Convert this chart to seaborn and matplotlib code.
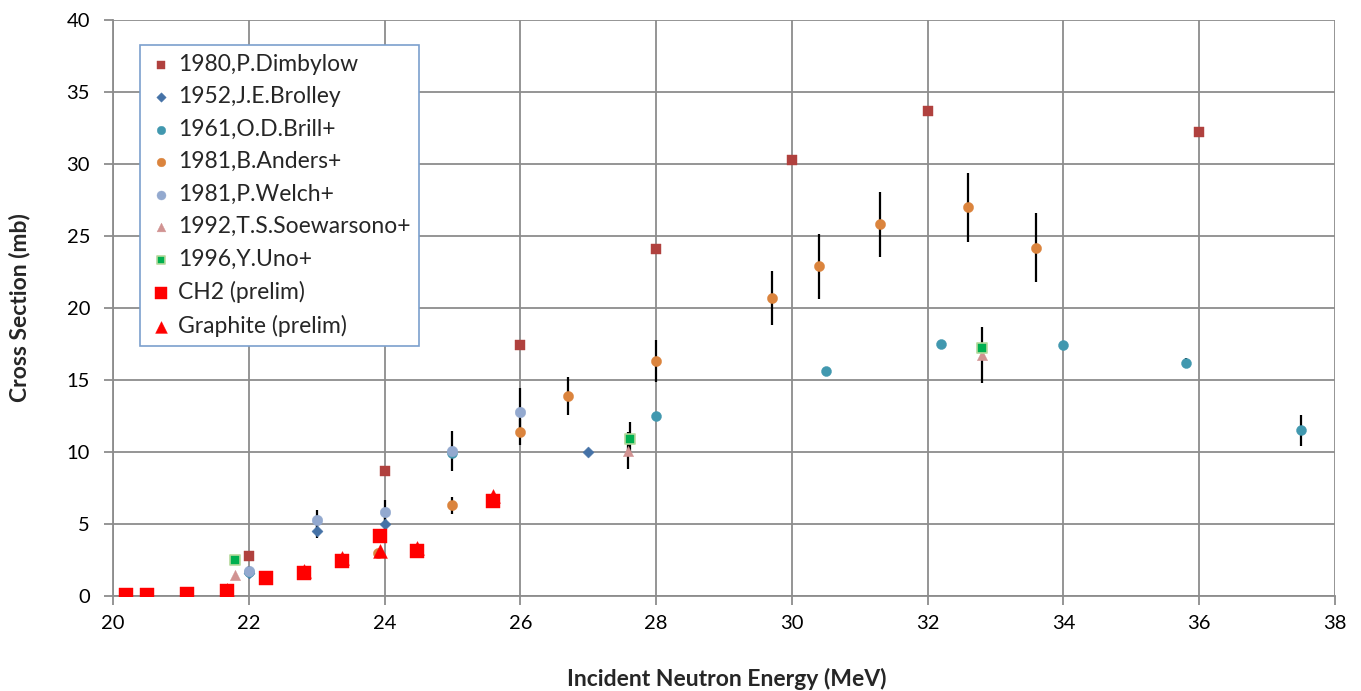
import matplotlib
matplotlib.use("Agg")
import matplotlib.pyplot as plt
import seaborn as sns
import numpy as np

# ---- data ----
dimbylow_x = [22.0, 24.0, 26.0, 28.0, 30.0, 32.0, 36.0]
dimbylow_y = [2.8, 8.7, 17.4, 24.1, 30.3, 33.7, 32.2]
dimbylow_e = [0, 0, 0, 0, 0, 0, 0]

brolley_x = [22.0, 23.0, 24.0, 27.0]
brolley_y = [1.6, 4.5, 5.0, 10.0]
brolley_e = [0.2, 0.5, 0.5, 0.0]

brill_x = [22.0, 25.0, 28.0, 30.5, 32.2, 34.0, 35.8, 37.5]
brill_y = [1.65, 9.95, 12.5, 15.6, 17.5, 17.4, 16.2, 11.5]
brill_e = [0.2, 0.3, 0.3, 0.2, 0.2, 0.2, 0.35, 1.1]

anders_x = [23.9, 25.0, 26.0, 26.7, 28.0, 29.7, 30.4, 31.3, 32.6, 33.6]
anders_y = [3.0, 6.3, 11.4, 13.9, 16.3, 20.7, 22.9, 25.8, 27.0, 24.2]
anders_e = [0.2, 0.6, 0.9, 1.3, 1.45, 1.85, 2.27, 2.29, 2.4, 2.4]

welch_x = [22.0, 23.0, 24.0, 25.0, 26.0]
welch_y = [1.75, 5.3, 5.85, 10.05, 12.8]
welch_e = [0.3, 0.65, 0.8, 1.4, 1.65]

soew_x = [21.8, 27.58, 32.8]
soew_y = [1.45, 10.1, 16.75]
soew_e = [0.0, 1.3, 1.95]

uno_x = [21.8, 27.62, 32.8]
uno_y = [2.5, 10.9, 17.2]
uno_e = [0.0, 1.2, 0.0]

ch2_x = [20.19, 20.5, 21.09, 21.68, 22.25, 22.82, 23.38, 23.94, 24.48, 25.6]
ch2_y = [0.05, 0.05, 0.14, 0.35, 1.23, 1.58, 2.42, 4.2, 3.1, 6.6]

graph_x = [21.68, 22.82, 23.38, 23.93, 24.48, 25.6]
graph_y = [0.45, 1.75, 2.65, 3.15, 3.35, 6.95]

x_ticks = [20, 22, 24, 26, 28, 30, 32, 34, 36, 38]
y_ticks = [0, 5, 10, 15, 20, 25, 30, 35, 40]

sns.set_theme(style="white")
plt.rcParams['font.family'] = ['Lato', 'DejaVu Sans']

fig = plt.figure(figsize=(13.61, 6.91), dpi=100)
ax = fig.add_axes([113/1361, 1 - 596/691, (1335-113)/1361, (596-20)/691])

series = [
    ("1980,P.Dimbylow", dimbylow_x, dimbylow_y, dimbylow_e, "s", "#B0413E", "#B0413E", 45, 3),
    ("1952,J.E.Brolley", brolley_x, brolley_y, brolley_e, "D", "#4572A7", "#4572A7", 32, 3.1),
    ("1961,O.D.Brill+", brill_x, brill_y, brill_e, "o", "#4198AF", "#4198AF", 52, 3.2),
    ("1981,B.Anders+", anders_x, anders_y, anders_e, "o", "#DB843D", "#DB843D", 54, 3.3),
    ("1981,P.Welch+", welch_x, welch_y, welch_e, "o", "#93A9CF", "#93A9CF", 58, 3.4),
    ("1992,T.S.Soewarsono+", soew_x, soew_y, soew_e, "^", "#D19392", "#D19392", 55, 3.5),
    ("1996,Y.Uno+", uno_x, uno_y, uno_e, "s", "#00B050", "#B5D99C", 42, 3.6),
]

for lab, xs, ys, es, mk, col, ec, s, z in series:
    es = np.array(es)
    m = es > 0
    if m.any():
        ax.errorbar(np.array(xs)[m], np.array(ys)[m], yerr=es[m], fmt='none',
                    ecolor='black', elinewidth=1.6, capsize=0, zorder=2.5)
    sns.scatterplot(x=xs, y=ys, marker=mk, color=col, edgecolor=ec, linewidth=1.2 if ec != col else 0.3,
                    s=s, label=lab, ax=ax, zorder=z)

sns.scatterplot(x=graph_x, y=graph_y, marker="^", color="#FF0000", edgecolor="#FF0000",
                linewidth=0.3, s=100, label="Graphite (prelim)", ax=ax, zorder=3.8)
sns.scatterplot(x=ch2_x, y=ch2_y, marker="s", color="#FF0000", edgecolor="#FF0000",
                linewidth=0.3, s=100, label="CH2 (prelim)", ax=ax, zorder=3.9)

ax.set_xlim(20, 38)
ax.set_ylim(0, 40)
ax.set_xticks(x_ticks)
ax.set_yticks(y_ticks)
ax.grid(True, color="#8C8C8C", linewidth=1.3)
ax.set_axisbelow(True)
for sp in ["top", "right"]:
    ax.spines[sp].set_visible(False)
for sp in ["left", "bottom"]:
    ax.spines[sp].set_color("#8C8C8C")
    ax.spines[sp].set_linewidth(1.3)
ax.tick_params(axis='both', which='both', length=6.5, width=1.3, color="#8C8C8C",
               labelsize=14.5, labelcolor="black", direction='out', bottom=True, left=True)
ax.tick_params(axis='x', pad=7)
ax.tick_params(axis='y', pad=10)

ax.set_xlabel("Incident Neutron Energy (MeV)", fontsize=16.5, fontweight="bold")
ax.set_ylabel("Cross Section (mb)", fontsize=16.5, fontweight="bold")
ax.xaxis.set_label_coords(0.502, -0.125)
ax.yaxis.set_label_coords(-0.068, 0.5)

handles, labels = ax.get_legend_handles_labels()
order = ["1980,P.Dimbylow", "1952,J.E.Brolley", "1961,O.D.Brill+", "1981,B.Anders+",
         "1981,P.Welch+", "1992,T.S.Soewarsono+", "1996,Y.Uno+", "CH2 (prelim)", "Graphite (prelim)"]
hmap = dict(zip(labels, handles))
leg = ax.legend([hmap[l] for l in order], order, loc="upper left",
                bbox_to_anchor=(0.022, 0.957), borderaxespad=0, fontsize=16.5,
                frameon=True, fancybox=False, edgecolor="#7BA0CD", framealpha=1,
                labelspacing=0.5, handletextpad=0.25, handlelength=1.0, borderpad=0.4,
                markerscale=0.85)
leg.get_frame().set_linewidth(1.2)

fig.savefig("out.png", dpi=100)
